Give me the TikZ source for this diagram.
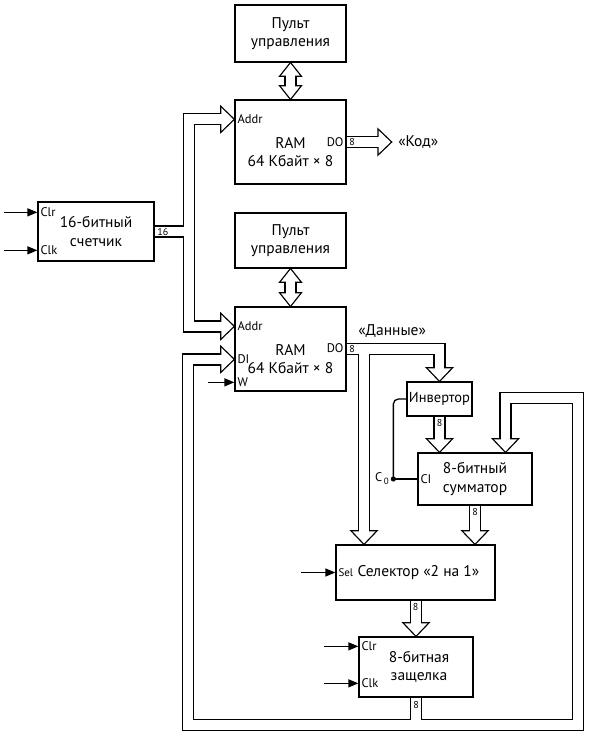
\documentclass[tikz,border=0pt]{standalone}
\usepackage{fontspec}
\setmainfont{PT Sans}
\usetikzlibrary{arrows.meta,positioning}

\begin{document}
\begin{tikzpicture}[x=1pt, y=-1pt, line width=1.3pt,
  blk/.style={draw, fill=white, inner sep=0pt, align=center, font=\fontsize{15.5}{18.5}\selectfont},
  txt/.style={inner sep=2pt, align=center, font=\fontsize{15.5}{18.5}\selectfont},
  port/.style={inner sep=2.5pt, font=\fontsize{12.5}{14}\selectfont},
  num/.style={inner sep=2pt, font=\fontsize{10}{11}\selectfont},
  sig/.style={-{Triangle[length=10pt, width=8pt]}},
  busout/.style={draw, line width=12.3pt, shorten >=9pt},
  busin/.style={draw=white, line width=9.7pt, shorten >=9pt},
  headout/.style={draw, line width=2.6pt},
  headin/.style={fill=white}]

  \useasboundingbox (0,0) rectangle (589,735);

  \node[blk, minimum width=111pt, minimum height=57pt] (pult1) at (290.5,33.5) {Пульт\\управления};
  \node[blk, minimum width=111pt, minimum height=84pt] (ram1) at (290.5,142) {};
  \node[txt] (ram1t) at ([yshift=-10pt]ram1.center) {RAM\\64 Кбайт × 8};
  \node[blk, minimum width=116pt, minimum height=59pt] (cnt) at (96,231.5) {16-битный\\счетчик};
  \node[blk, minimum width=111pt, minimum height=55pt] (pult2) at (290.5,240.5) {Пульт\\управления};
  \node[blk, minimum width=111pt, minimum height=84pt] (ram2) at (290.5,349) {};
  \node[txt] (ram2t) at ([yshift=-10pt]ram2.center) {RAM\\64 Кбайт × 8};
  \node[blk, minimum width=65pt, minimum height=34pt, font=\fontsize{14.5}{18}\selectfont] (inv) at (439.5,399) {Инвертор};
  \node[blk, minimum width=114pt, minimum height=52pt] (add) at (475,479) {8-битный\\сумматор};
  \node[blk, minimum width=159pt, minimum height=55pt] (sel) at (415.5,572.5) {\hspace*{6pt}Селектор «2 на 1»};
  \node[blk, minimum width=114pt, minimum height=60pt] (latch) at (416,667) {\hspace*{6pt}8-битная\\\hspace*{6pt}защелка};

  %% ports
  \node[port, anchor=west] (cclr) at ([yshift=-11pt]cnt.north west) {Clr};
  \node[port, anchor=west] (cclk) at ([yshift=-49pt]cnt.north west) {Clk};
  \node[port, anchor=west] (r1addr) at ([yshift=-20pt]ram1.north west) {Addr};
  \node[port, anchor=east] (r1do) at ([yshift=-43pt]ram1.north east) {DO};
  \node[port, anchor=west] (r2addr) at ([yshift=-20pt]ram2.north west) {Addr};
  \node[port, anchor=west] (r2di) at ([yshift=-53pt]ram2.north west) {DI};
  \node[port, anchor=west] (r2w) at ([yshift=-76pt]ram2.north west) {W};
  \node[port, anchor=east] (r2do) at ([yshift=-42pt]ram2.north east) {DO};
  \node[port, anchor=west] (ci) at (add.west) {CI};
  \node[port, anchor=west, font=\fontsize{11}{12}\selectfont] (ssel) at (sel.west) {Sel};
  \node[port, anchor=west] (lclr) at ([yshift=-10pt]latch.north west) {Clr};
  \node[port, anchor=west] (lclk) at ([yshift=-47pt]latch.north west) {Clk};

  \node[txt, right=45pt of ram1, inner sep=6pt] (kod) {«Код»};
  \node[txt, anchor=west] (data) at ([xshift=9pt,yshift=-25pt]ram2.north east) {«Данные»};
  \coordinate (sela) at ([xshift=-51.5pt]sel.north);
  \coordinate (addb) at ([xshift=30.5pt]add.north);
  \coordinate (c0) at ([xshift=-24pt]add.west);

  \newcommand\bhead[4][11.5]{\path[#2, shift={#3}, rotate=#4] (-1,0) -- (-13,-#1) -- (-13,#1) -- cycle;}
  \newcommand\busnet[2]{%
    \path[#1] (cnt.east) -- ++(34.5,0) |- (r1addr.west); \bhead{#2}{(r1addr.west)}{0} %% cnt->ram1
    \path[#1] (cnt.east) -- ++(34.5,0) |- (r2addr.west); \bhead{#2}{(r2addr.west)}{0} %% cnt->ram2
    \path[#1] (ram1.east) -- (kod.west); \bhead{#2}{(kod.west)}{0}
    \path[#1] (ram2.east) -| (inv.north); \bhead{#2}{(inv.north)}{-90}
    \path[#1] (ram2.east) -| (sela); \bhead{#2}{(sela)}{-90}
    \path[#1] (inv.south) -- (inv.south |- add.north); \bhead{#2}{(inv.south |- add.north)}{-90}
    \path[#1] (add.south) -- (add.south |- sel.north); \bhead{#2}{(add.south |- sel.north)}{-90}
    \path[#1] (latch.north |- sel.south) -- (latch.north); \bhead{#2}{(latch.north)}{-90}
    \path[#1] (latch.south) -- ++(0,27) -| ([xshift=-46.5pt]r2di.west) -- (r2di.west); \bhead{#2}{(r2di.west)}{0} %% latch->DI
    \path[#1] (latch.south) -- ++(0,27) -| ([xshift=72.5pt,yshift=54.5pt]addb) -| (addb); \bhead{#2}{(addb)}{-90} %% latch->add
    \path[#1, shorten <=9pt] (pult1.south) -- (ram1.north); \bhead[9.5]{#2}{(pult1.south)}{90} \bhead[9.5]{#2}{(ram1.north)}{-90}
    \path[#1, shorten <=9pt] (pult2.south) -- (ram2.north); \bhead[9.5]{#2}{(pult2.south)}{90} \bhead[9.5]{#2}{(ram2.north)}{-90}
  }
  \busnet{busout}{headout}
  \busnet{busin}{headin}

  \node[num, anchor=west] (n16) at (cnt.east) {16};
  \node[num, anchor=west] (n1) at (ram1.east) {8};
  \node[num, anchor=west] (n2) at (ram2.east) {8};
  \node[num, anchor=north] (n3) at (inv.south) {8};
  \node[num, anchor=north] (n4) at (add.south) {8};
  \node[num, anchor=north] (n5) at (sel.south) {8};
  \node[num, anchor=north, inner sep=3pt] (n6) at (latch.south) {8};

  %% inputs
  \draw[sig] ([xshift=-33pt]cclr.west) -- (cclr.west);
  \draw[sig] ([xshift=-33pt]cclk.west) -- (cclk.west);
  \draw[sig] ([xshift=-26pt]r2w.west) -- (r2w.west);
  \draw[sig] ([xshift=-34pt]ssel.west) -- (ssel.west);
  \draw[sig] ([xshift=-34pt]lclr.west) -- (lclr.west);
  \draw[sig] ([xshift=-34pt]lclk.west) -- (lclk.west);

  \draw[rounded corners=5pt] (inv.west) -| (c0); %% inv->C0
  \draw (c0) -- (ci.west);
  \fill (c0) circle (2.6pt);
  \node[port, anchor=east, inner xsep=4pt] (c0l) at (c0) {C\raisebox{-3pt}{\fontsize{9}{9}\selectfont\,0}};
\end{tikzpicture}
\end{document}
